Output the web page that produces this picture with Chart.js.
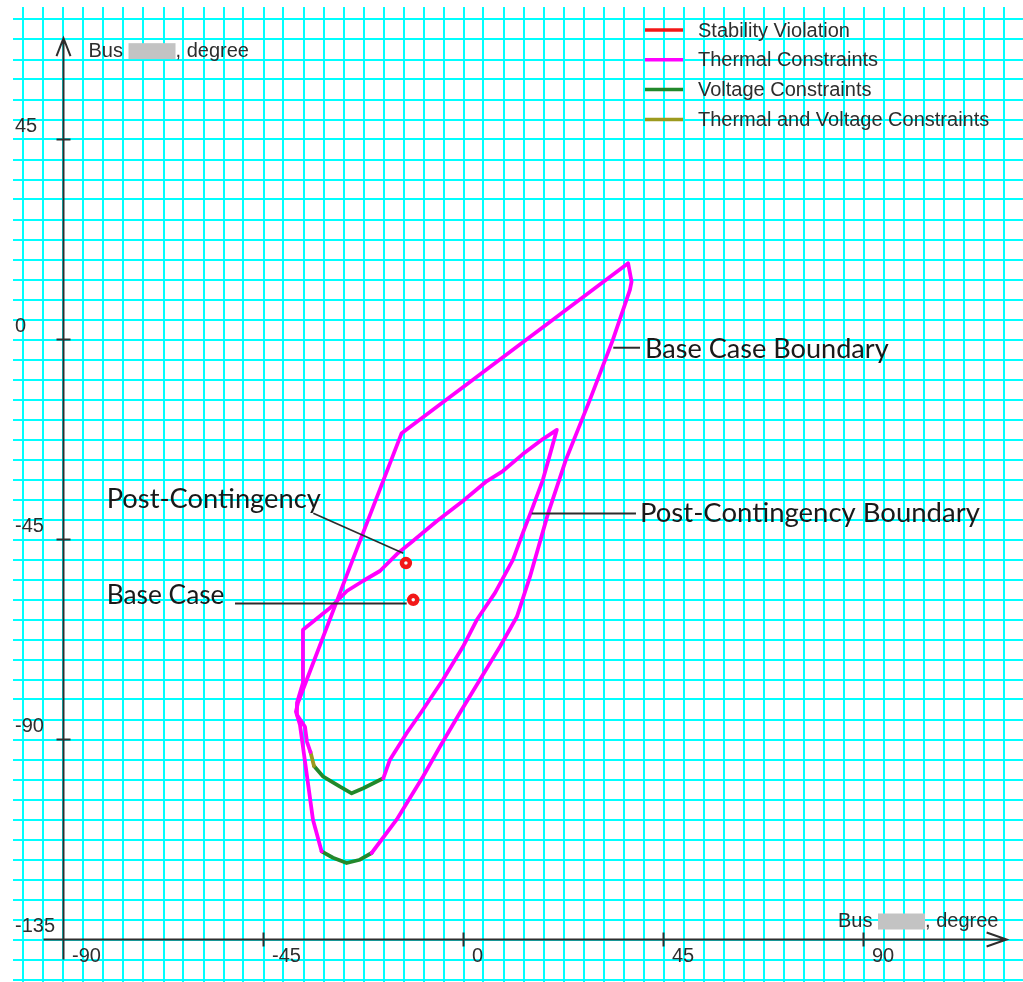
<!DOCTYPE html>
<html lang="en">
<head>
    <meta charset="UTF-8">
    <title>Operating Region</title>
    <script src="https://cdn.jsdelivr.net/npm/chart.js"></script>
    <style>
        html, body { margin: 0; padding: 0; background: #fff; }
        #wrap { position: relative; width: 1023px; height: 982px; }
    </style>
</head>
<body>
<div id="wrap"><canvas id="regionChart"></canvas></div>
<script>
    // legend categories
    const legendLabels = ['Stability Violation', 'Thermal Constraints', 'Voltage Constraints', 'Thermal and Voltage Constraints'];

    // axis tick labels, degrees
    const xTickValues = [-90, -45, 0, 45, 90];
    const yTickValues = [45, 0, -45, -90, -135];

    // base case boundary, thermal part
    const baseThermalX = [-20.67, -15.05, -9.13, -5.31, -0.81, 3.69, 8.19, 12.01, 14.94, 19.0, 23.03, 28.43, 33.6, 37.44, 37.81, 37.04, -13.92, -25.55, -37.25, -37.7, -36.8, -36.12, -33.87, -31.92];
    const baseThermalY = [-115.54, -108.05, -98.38, -91.63, -83.99, -76.56, -69.14, -62.39, -53.42, -39.23, -27.08, -13.59, -0.09, 11.16, 13.02, 17.16, -21.08, -51.15, -81.74, -83.76, -86.68, -91.63, -108.05, -115.18];
    // base case boundary, voltage part
    const baseVoltageX = [-31.92, -29.37, -26.29, -23.3, -20.67];
    const baseVoltageY = [-115.18, -116.6, -117.79, -117.05, -115.54];

    // post-contingency boundary, thermal part
    const postThermalX = [-18.05, -16.55, -12.73, -9.13, -4.63, -0.13, 3.0, 7.09, 11.11, 13.36, 15.61, 17.86, 19.43, 21.0, 17.86, 13.36, 8.86, 5.26, -0.13, -5.98, -11.38, -14.98, -18.8, -22.63, -26.23, -30.05, -36.12, -36.12, -37.47, -37.47, -35.67, -35.22, -34.43];
    const postThermalY = [-98.73, -94.55, -88.48, -83.31, -76.56, -69.14, -63.07, -57.0, -49.57, -43.5, -37.65, -31.58, -25.96, -20.33, -22.4, -25.78, -29.6, -31.85, -36.35, -40.85, -45.35, -48.27, -52.09, -54.34, -56.59, -60.41, -65.32, -77.24, -81.74, -84.44, -87.13, -90.51, -92.82];
    // post-contingency boundary, thermal and voltage part
    const postMixedX = [-34.43, -33.64];
    const postMixedY = [-92.82, -95.96];
    // post-contingency boundary, voltage part
    const postVoltageX = [-33.64, -31.55, -27.79, -25.16, -22.55, -18.05];
    const postVoltageY = [-95.96, -98.37, -100.62, -102.11, -100.98, -98.73];

    // operating points
    const pointLabels = ['Post-Contingency', 'Base Case'];
    const pointX = [-12.96, -11.31];
    const pointY = [-50.31, -58.57];

    const boundaryLabels = ['Base Case Boundary', 'Post-Contingency Boundary'];

    const colors = ['#f21818', '#ff00ff', '#23882b', '#9c9a1e'];
    const axisColor = '#2e2e2e';
    const labelFont = '20px "Liberation Sans", Arial, sans-serif';
    const noteFontFamily = 'Lato, "Open Sans", sans-serif';

    function toPoints(xs, ys) {
        return xs.map((v, i) => ({ x: v, y: ys[i] }));
    }

    // call-outs: text anchor and leader line in data units
    const callouts = [
        { text: pointLabels[0], x: -80.28, y: -37.98, width: 214, line: [[-33.8, -39.1], [-13.55, -48.1]], lw: 1.6 },
        { text: pointLabels[1], x: -80.28, y: -59.51, width: 118, line: [[-51.41, -59.4], [-12.78, -59.4]], lw: 2 },
        { text: boundaryLabels[0], x: 40.84, y: -4.16, width: 244, line: [[33.7, -1.85], [39.71, -1.85]], lw: 2 },
        { text: boundaryLabels[1], x: 39.71, y: -41.06, width: 340, line: [[15.35, -39.15], [38.81, -39.15]], lw: 2 }
    ];

    const axisRange = { xFrom: -94.5, xTo: 122.2, yFrom: -139.5, yTo: 67.8 };

    const axisPlugin = {
        id: 'axisPlugin',
        beforeDatasetsDraw(chart) {
            const { ctx, scales: { x, y } } = chart;
            const ox = x.getPixelForValue(-90);
            const oy = y.getPixelForValue(-135);
            ctx.save();
            ctx.strokeStyle = axisColor;
            ctx.fillStyle = axisColor;
            ctx.lineWidth = 2;
            ctx.lineCap = 'butt';

            // y axis with arrow
            const yTop = y.getPixelForValue(axisRange.yTo);
            ctx.beginPath();
            ctx.moveTo(ox, y.getPixelForValue(axisRange.yFrom));
            ctx.lineTo(ox, yTop);
            ctx.moveTo(ox - 7, yTop + 18);
            ctx.lineTo(ox, yTop);
            ctx.lineTo(ox + 7, yTop + 18);
            ctx.stroke();

            // x axis with arrow
            const xEnd = x.getPixelForValue(axisRange.xTo);
            ctx.beginPath();
            ctx.moveTo(x.getPixelForValue(axisRange.xFrom), oy);
            ctx.lineTo(xEnd, oy);
            ctx.moveTo(xEnd - 20, oy - 7);
            ctx.lineTo(xEnd, oy);
            ctx.lineTo(xEnd - 20, oy + 7);
            ctx.stroke();

            // ticks and labels
            ctx.font = labelFont;
            ctx.textBaseline = 'middle';
            ctx.textAlign = 'left';
            xTickValues.forEach(v => {
                const px = x.getPixelForValue(v);
                if (v !== -90) {
                    ctx.beginPath();
                    ctx.moveTo(px, oy - 7);
                    ctx.lineTo(px, oy + 7);
                    ctx.stroke();
                }
                ctx.fillText(String(v), px + 8.5, oy + 17);
            });
            yTickValues.forEach(v => {
                const py = y.getPixelForValue(v);
                if (v !== -135) {
                    ctx.beginPath();
                    ctx.moveTo(ox - 7, py);
                    ctx.lineTo(ox + 7, py);
                    ctx.stroke();
                }
                ctx.fillText(String(v), ox - 48.5, py - 13.5);
            });

            // axis titles, bus name greyed out
            const drawTitle = (left, cy) => {
                ctx.fillStyle = axisColor;
                ctx.fillText('Bus', left, cy);
                const bx = left + ctx.measureText('Bus ').width;
                ctx.fillStyle = '#c3c3c3';
                ctx.fillRect(bx, cy - 8, 47, 16);
                ctx.fillStyle = axisColor;
                ctx.fillText(', degree', bx + 47, cy);
            };
            drawTitle(ox + 25, yTop + 13);
            drawTitle(x.getPixelForValue(90) - 25.5, oy - 18);

            // legend
            legendLabels.forEach((label, i) => {
                const ly = 30 + i * 29.8;
                ctx.strokeStyle = colors[i];
                ctx.lineWidth = 3.5;
                ctx.beginPath();
                ctx.moveTo(645, ly);
                ctx.lineTo(683, ly);
                ctx.stroke();
                ctx.fillStyle = axisColor;
                ctx.fillText(label, 698, ly + 1);
            });
            ctx.restore();
        },
        afterDatasetsDraw(chart) {
            const { ctx, scales: { x, y } } = chart;
            ctx.save();
            ctx.strokeStyle = axisColor;
            ctx.fillStyle = '#1a1a1a';
            ctx.textBaseline = 'alphabetic';
            ctx.textAlign = 'left';
            callouts.forEach(c => {
                ctx.lineWidth = c.lw;
                ctx.beginPath();
                ctx.moveTo(x.getPixelForValue(c.line[0][0]), y.getPixelForValue(c.line[0][1]));
                ctx.lineTo(x.getPixelForValue(c.line[1][0]), y.getPixelForValue(c.line[1][1]));
                ctx.stroke();
                ctx.font = '100px ' + noteFontFamily;
                const size = 100 * c.width / ctx.measureText(c.text).width;
                ctx.font = size.toFixed(1) + 'px ' + noteFontFamily;
                ctx.fillText(c.text, x.getPixelForValue(c.x), y.getPixelForValue(c.y));
            });
            ctx.restore();
        }
    };

    function gridTicks(scale) {
        const ticks = [];
        for (let v = Math.ceil(scale.min / 4.5) * 4.5; v <= scale.max; v += 4.5) {
            ticks.push({ value: v });
        }
        scale.ticks = ticks;
    }

    const lineStyle = { showLine: true, pointRadius: 0, borderWidth: 3.8, tension: 0, fill: false,
                        borderJoinStyle: 'round', borderCapStyle: 'round' };

    const ctx = document.getElementById('regionChart').getContext('2d');
    new Chart(ctx, {
        type: 'scatter',
        data: {
            datasets: [
                { label: legendLabels[1], data: toPoints(baseThermalX, baseThermalY), borderColor: colors[1], ...lineStyle },
                { label: legendLabels[2], data: toPoints(baseVoltageX, baseVoltageY), borderColor: colors[2], ...lineStyle },
                { label: legendLabels[1], data: toPoints(postThermalX, postThermalY), borderColor: colors[1], ...lineStyle },
                { label: legendLabels[3], data: toPoints(postMixedX, postMixedY), borderColor: colors[3], ...lineStyle },
                { label: legendLabels[2], data: toPoints(postVoltageX, postVoltageY), borderColor: colors[2], ...lineStyle },
                {
                    label: legendLabels[0],
                    data: toPoints(pointX, pointY),
                    showLine: false,
                    pointRadius: 4,
                    pointBorderWidth: 4.5,
                    pointBorderColor: colors[0],
                    pointBackgroundColor: '#f4fbfb'
                }
            ]
        },
        options: {
            responsive: true,
            maintainAspectRatio: false,
            animation: false,
            events: [],
            layout: { autoPadding: false, padding: { left: 13, top: 7, right: 0, bottom: 0 } },
            plugins: { legend: { display: false }, tooltip: { enabled: false } },
            scales: {
                x: {
                    type: 'linear',
                    min: -101.3625,
                    max: 125.8875,
                    afterBuildTicks: gridTicks,
                    ticks: { display: false },
                    border: { display: false },
                    grid: { color: '#00ffff', lineWidth: 2, drawTicks: false }
                },
                y: {
                    type: 'linear',
                    min: -144.5625,
                    max: 74.8125,
                    afterBuildTicks: gridTicks,
                    ticks: { display: false },
                    border: { display: false },
                    grid: { color: '#00ffff', lineWidth: 2, drawTicks: false }
                }
            }
        },
        plugins: [axisPlugin]
    });
</script>
</body>
</html>
